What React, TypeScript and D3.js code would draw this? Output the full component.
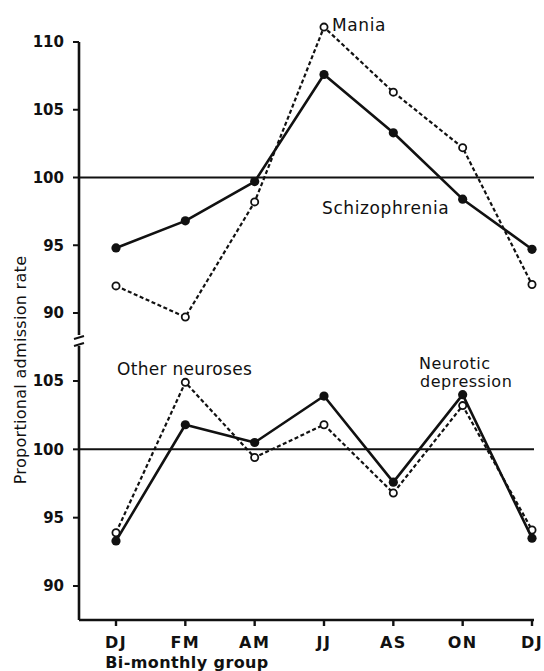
import React from "react";
import * as d3 from "d3";

const groups = ["DJ", "FM", "AM", "JJ", "AS", "ON", "DJ2"];
const groupLabels = ["DJ", "FM", "AM", "JJ", "AS", "ON", "DJ"];

// upper panel
const schizophrenia = [94.8, 96.8, 99.7, 107.6, 103.3, 98.4, 94.7];
const mania = [92.0, 89.7, 98.2, 111.1, 106.3, 102.2, 92.1];
// lower panel
const neuroticDepression = [93.3, 101.8, 100.5, 103.9, 97.6, 104.0, 93.5];
const otherNeuroses = [93.9, 104.9, 99.4, 101.8, 96.8, 103.2, 94.1];

const upperTicks = [90, 95, 100, 105, 110];
const lowerTicks = [90, 95, 100, 105];

const FONT = "'DejaVu Sans', sans-serif";

const App = () => {
  const width = 544;
  const height = 671;
  const axisX = 79;

  const x = d3.scalePoint<string>().domain(groups).range([116, 532]);

  const yUpper = d3.scaleLinear().domain([90, 110]).range([313, 42]);
  const yLower = d3.scaleLinear().domain([90, 105]).range([586, 381]);

  const line = (y: d3.ScaleLinear<number, number>) =>
    d3
      .line<number>()
      .x((_, i) => x(groups[i]) as number)
      .y((d) => y(d));

  const solidSeries = (vals: number[], y: d3.ScaleLinear<number, number>) => (
    <g>
      <path d={line(y)(vals) || ""} fill="none" stroke="#111" strokeWidth={2.6} strokeLinejoin="round" />
      {vals.map((v, i) => (
        <circle key={i} cx={x(groups[i])} cy={y(v)} r={4.6} fill="#111" />
      ))}
    </g>
  );

  const dashedSeries = (vals: number[], y: d3.ScaleLinear<number, number>) => (
    <g>
      <path d={line(y)(vals) || ""} fill="none" stroke="#111" strokeWidth={2.2} strokeDasharray="4,2.5" />
      {vals.map((v, i) => (
        <circle key={i} cx={x(groups[i])} cy={y(v)} r={3.6} fill="#fff" stroke="#111" strokeWidth={1.8} />
      ))}
    </g>
  );

  const yTicks = (ticks: number[], y: d3.ScaleLinear<number, number>) =>
    ticks.map((t) => (
      <g key={t}>
        <line x1={axisX - 6} x2={axisX} y1={y(t)} y2={y(t)} stroke="#111" strokeWidth={2} />
        <text x={64} y={y(t)} dy="0.36em" textAnchor="end" fontSize={15} fontWeight="bold" fontFamily={FONT} fill="#111">
          {t}
        </text>
      </g>
    ));

  const xEnd = 534;
  const xAxisY = 620;

  return (
    <svg width={width} height={height} style={{ position: "absolute", left: 0, top: 0, background: "#fff" }}>
      <rect width={width} height={height} fill="#fff" />
      {/* axes */}
      <line x1={axisX} x2={axisX} y1={yUpper(110)} y2={335} stroke="#111" strokeWidth={2.6} />
      <line x1={axisX} x2={axisX} y1={346} y2={xAxisY} stroke="#111" strokeWidth={2.6} />
      {/* break marks */}
      <line x1={axisX - 5} x2={axisX + 5} y1={339} y2={336} stroke="#111" strokeWidth={2} />
      <line x1={axisX - 5} x2={axisX + 5} y1={346} y2={343} stroke="#111" strokeWidth={2} />
      <line x1={axisX} x2={xEnd} y1={xAxisY} y2={xAxisY} stroke="#111" strokeWidth={2.6} />

      {yTicks(upperTicks, yUpper)}
      {yTicks(lowerTicks, yLower)}

      {groups.map((g, i) => (
        <g key={g}>
          <line x1={x(g)} x2={x(g)} y1={xAxisY} y2={xAxisY + 6} stroke="#111" strokeWidth={2.4} />
          <text x={x(g)} y={642} dy="0.36em" textAnchor="middle" fontSize={16} fontWeight="bold" letterSpacing={1.5} fontFamily={FONT} fill="#111">
            {groupLabels[i]}
          </text>
        </g>
      ))}

      {/* reference lines at 100 */}
      <line x1={axisX} x2={xEnd} y1={yUpper(100)} y2={yUpper(100)} stroke="#111" strokeWidth={2} />
      <line x1={axisX} x2={xEnd} y1={yLower(100)} y2={yLower(100)} stroke="#111" strokeWidth={2} />

      {dashedSeries(mania, yUpper)}
      {solidSeries(schizophrenia, yUpper)}
      {dashedSeries(otherNeuroses, yLower)}
      {solidSeries(neuroticDepression, yLower)}

      {/* labels */}
      <g fontFamily={FONT} fontSize={17} fill="#111" fontWeight={500}>
        <text x={332} y={25} dy="0.36em" letterSpacing={0.6}>Mania</text>
        <text x={322} y={208} dy="0.36em" letterSpacing={0.6}>Schizophrenia</text>
        <text x={117} y={369} dy="0.36em" letterSpacing={0.3}>Other neuroses</text>
        <text x={419} y={363} dy="0.36em" fontSize={16} letterSpacing={0.5}>Neurotic</text>
        <text x={420} y={381} dy="0.36em" fontSize={16} letterSpacing={0.5}>depression</text>
        <text x={187} y={662} dy="0.36em" textAnchor="middle" fontSize={16} fontWeight="bold" letterSpacing={0.4}>Bi-monthly group</text>
        <text transform="translate(20,370) rotate(-90)" dy="0.36em" textAnchor="middle" fontSize={16} letterSpacing={0.3}>Proportional admission rate</text>
      </g>
    </svg>
  );
};

export default App;
